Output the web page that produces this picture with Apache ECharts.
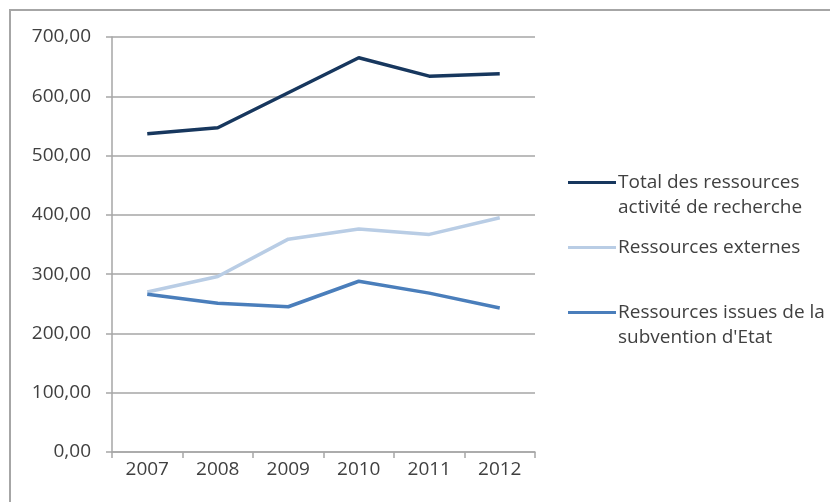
<!DOCTYPE html>
<html>
<head>
<meta charset="utf-8">
<script src="https://cdn.jsdelivr.net/npm/echarts@6/dist/echarts.min.js"></script>
<style>html,body{margin:0;padding:0;background:#fff}#c{width:830px;height:502px}</style>
</head>
<body>
<div id="c"></div>
<script>
const categories = ['2007', '2008', '2009', '2010', '2011', '2012'];
const totalRecherche = [537, 547, 606, 665, 634, 638];
const ressourcesExternes = [270, 296, 359, 376, 367, 395];
const subventionEtat = [266, 251, 245, 288, 268, 243];
const seriesNames = ['Total des ressources\nactivité de recherche', 'Ressources externes', "Ressources issues de la\nsubvention d'Etat"];
const yTicks = { min: 0, max: 700, interval: 100 };

const font = '"Open Sans", sans-serif';
const txt = '#404040';
const colors = ['#17375E', '#B9CDE5', '#4A7EBB'];

function legendFor(i, top, twoLine) {
  return {
    left: 568, top: top, orient: 'vertical', padding: 0,
    itemWidth: 48, itemHeight: twoLine ? 28 : 14, selectedMode: false,
    icon: twoLine ? 'path://M0,0L48,0L48,3L0,3Z M0,27.9L0.01,28Z' : 'path://M0,5.5L48,5.5L48,8.5L0,8.5Z',
    data: [{ name: seriesNames[i], itemStyle: { color: colors[i] } }],
    textStyle: { fontFamily: font, fontSize: 19, color: txt, lineHeight: 25, padding: [0, 0, 0, -3] },
    itemGap: 0
  };
}

const chart = echarts.init(document.getElementById('c'));
chart.setOption({
  animation: false,
  graphic: [{ type: 'rect', shape: { x: 10, y: 10, width: 830, height: 520 }, style: { fill: 'none', stroke: '#A6A6A6', lineWidth: 2 }, silent: true }],
  legend: [legendFor(0, 170, true), legendFor(1, 235, false), legendFor(2, 300, true)],
  grid: { left: 112, right: 295, top: 37, bottom: 50 },
  xAxis: {
    type: 'category', data: categories, boundaryGap: true,
    axisLine: { lineStyle: { color: '#A6A6A6', width: 1.5 } },
    axisTick: { show: true, length: 6, alignWithLabel: false, lineStyle: { color: '#A6A6A6', width: 1.5 } },
    axisLabel: { fontFamily: font, fontSize: 19, color: txt, margin: 8 }
  },
  yAxis: {
    type: 'value', min: yTicks.min, max: yTicks.max, interval: yTicks.interval,
    axisLine: { show: true, lineStyle: { color: '#A6A6A6', width: 1.5 } },
    axisTick: { show: true, length: 6, lineStyle: { color: '#A6A6A6', width: 1.5 } },
    splitLine: { lineStyle: { color: '#A6A6A6', width: 1.5 } },
    axisLabel: { fontFamily: font, fontSize: 19, color: txt, margin: 21,
      formatter: v => v.toFixed(2).replace('.', ',') }
  },
  series: [
    { name: seriesNames[0], type: 'line', data: totalRecherche, symbol: 'none', lineStyle: { color: colors[0], width: 3.5 }, itemStyle: { color: colors[0] } },
    { name: seriesNames[1], type: 'line', data: ressourcesExternes, symbol: 'none', lineStyle: { color: colors[1], width: 3.5 }, itemStyle: { color: colors[1] } },
    { name: seriesNames[2], type: 'line', data: subventionEtat, symbol: 'none', lineStyle: { color: colors[2], width: 3.5 }, itemStyle: { color: colors[2] } }
  ]
});
</script>
</body>
</html>
